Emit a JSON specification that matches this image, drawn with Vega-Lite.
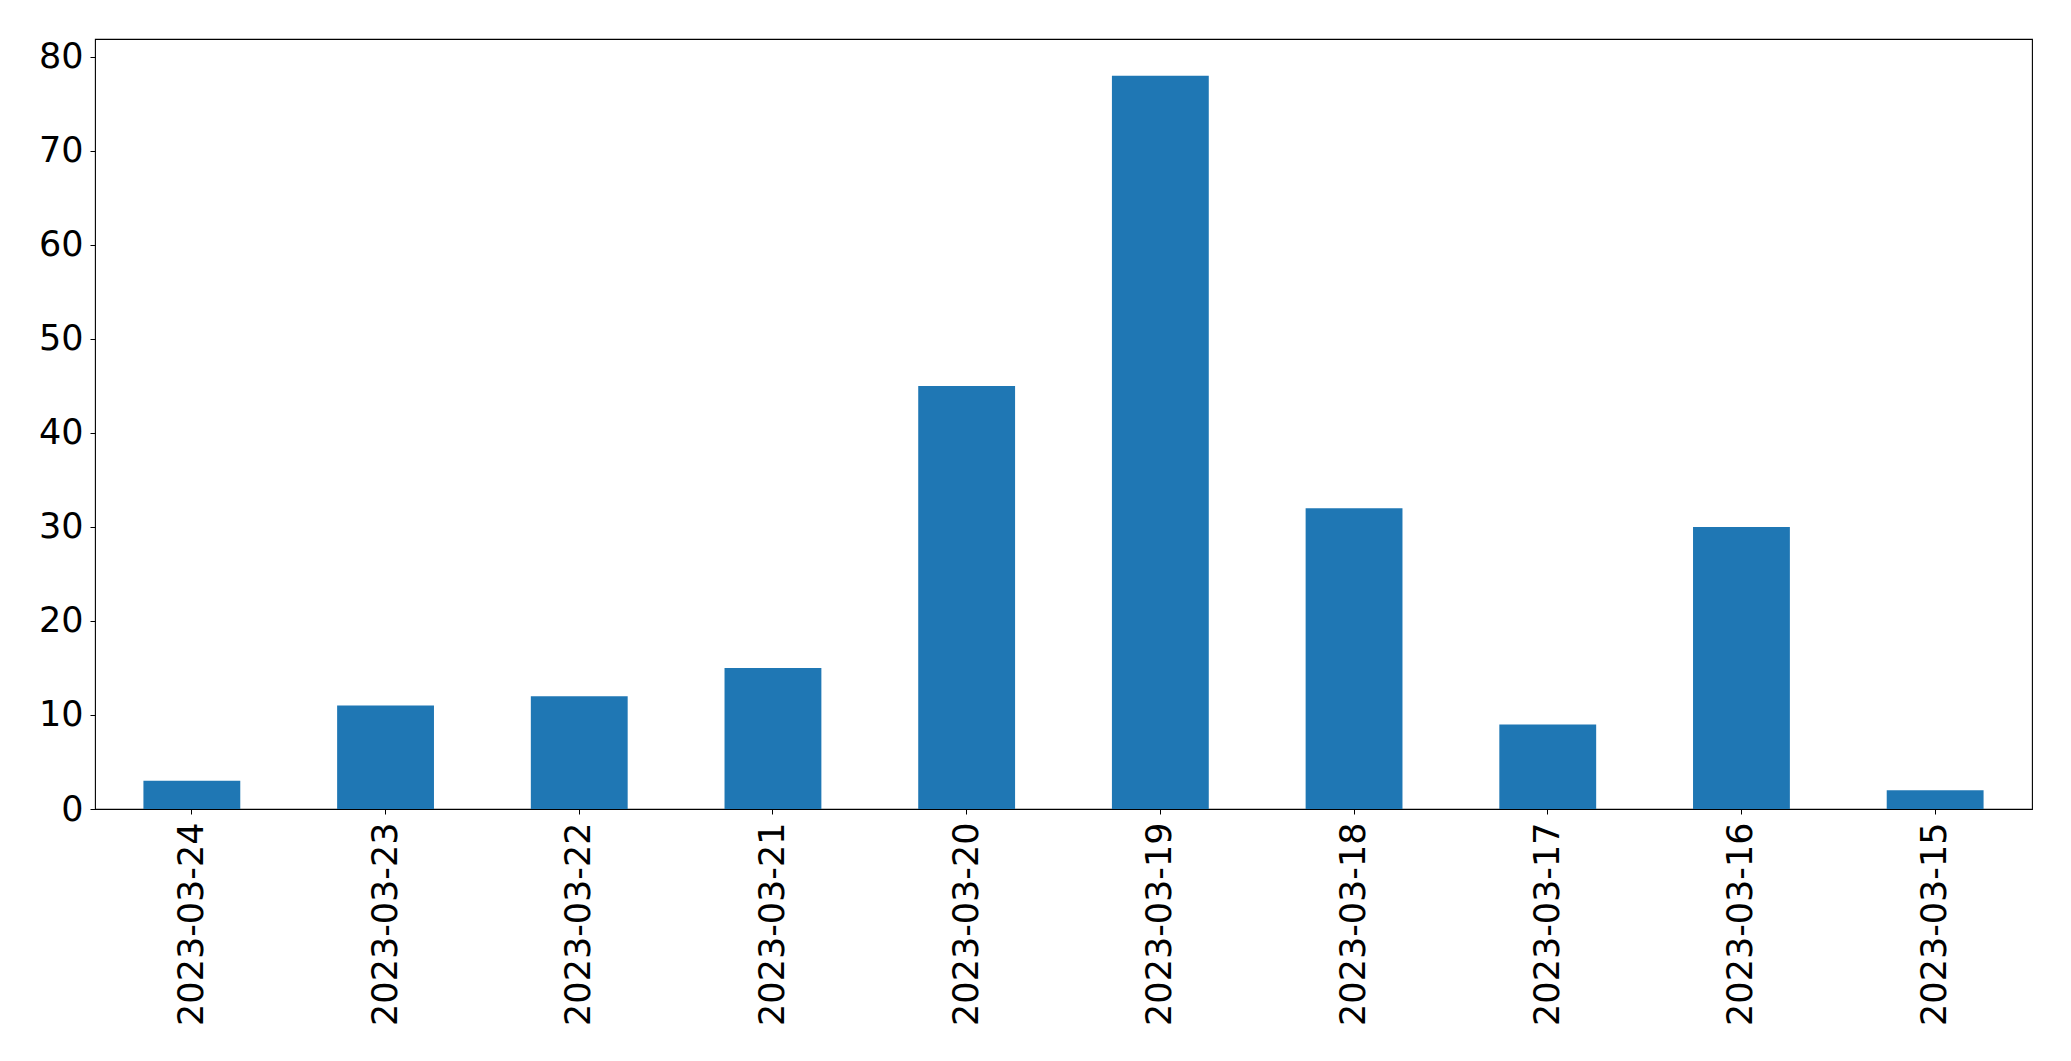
{
  "$schema": "https://vega.github.io/schema/vega-lite/v6.json",
  "autosize": "none",
  "width": 1937,
  "height": 770,
  "padding": {"left": 95, "top": 39, "right": 39, "bottom": 252},
  "background": "white",
  "data": {"values": [
    {"date": "2023-03-24", "count": 3},
    {"date": "2023-03-23", "count": 11},
    {"date": "2023-03-22", "count": 12},
    {"date": "2023-03-21", "count": 15},
    {"date": "2023-03-20", "count": 45},
    {"date": "2023-03-19", "count": 78},
    {"date": "2023-03-18", "count": 32},
    {"date": "2023-03-17", "count": 9},
    {"date": "2023-03-16", "count": 30},
    {"date": "2023-03-15", "count": 2}
  ]},
  "mark": {"type": "bar", "color": "#1f77b4"},
  "encoding": {
    "x": {
      "field": "date", "type": "nominal", "sort": null,
      "scale": {"paddingInner": 0.5, "paddingOuter": 0.25},
      "axis": {"title": null, "labelAngle": -90, "labelFontSize": 35, "labelFont": "DejaVu Sans", "labelColor": "black", "labelLimit": 0, "tickColor": "black", "tickSize": 5, "labelPadding": 8, "domain": false, "grid": false}
    },
    "y": {
      "field": "count", "type": "quantitative",
      "scale": {"domain": [0, 81.9], "nice": false, "zero": true},
      "axis": {"title": null, "values": [0, 10, 20, 30, 40, 50, 60, 70, 80], "labelFontSize": 35, "labelFont": "DejaVu Sans", "labelColor": "black", "labelLimit": 0, "tickColor": "black", "tickSize": 5, "labelPadding": 7, "domain": false, "grid": false}
    }
  },
  "config": {
    "view": {"stroke": "black", "strokeWidth": 1.1},
    "axis": {"labelFlush": false, "labelOverlap": false}
  }
}
